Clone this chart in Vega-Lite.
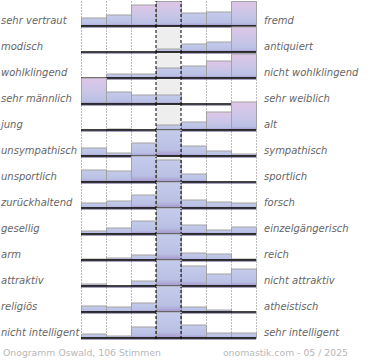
{
  "$schema": "https://vega.github.io/schema/vega-lite/v6.json",
  "autosize": {"type": "pad"},
  "padding": 0,
  "bounds": "flush",
  "background": "white",
  "config": {"view": {"stroke": null}, "font": "DejaVu Sans"},
  "datasets": {
    "bars": [
      {"r":1,"c":0,"v":8},{"r":1,"c":1,"v":11},{"r":1,"c":2,"v":21},{"r":1,"c":3,"v":24.5},{"r":1,"c":4,"v":13},{"r":1,"c":5,"v":14},{"r":1,"c":6,"v":24.5},
      {"r":2,"c":0,"v":0},{"r":2,"c":1,"v":0},{"r":2,"c":2,"v":0},{"r":2,"c":3,"v":3},{"r":2,"c":4,"v":8},{"r":2,"c":5,"v":10},{"r":2,"c":6,"v":25},
      {"r":3,"c":0,"v":0},{"r":3,"c":1,"v":4},{"r":3,"c":2,"v":4},{"r":3,"c":3,"v":10},{"r":3,"c":4,"v":12},{"r":3,"c":5,"v":17},{"r":3,"c":6,"v":24},
      {"r":4,"c":0,"v":26},{"r":4,"c":1,"v":12},{"r":4,"c":2,"v":9},{"r":4,"c":3,"v":9},{"r":4,"c":4,"v":0},{"r":4,"c":5,"v":0},{"r":4,"c":6,"v":0},
      {"r":5,"c":0,"v":0},{"r":5,"c":1,"v":1},{"r":5,"c":2,"v":0},{"r":5,"c":3,"v":5},{"r":5,"c":4,"v":8},{"r":5,"c":5,"v":18},{"r":5,"c":6,"v":28},
      {"r":6,"c":0,"v":8},{"r":6,"c":1,"v":3},{"r":6,"c":2,"v":13},{"r":6,"c":3,"v":26},{"r":6,"c":4,"v":10},{"r":6,"c":5,"v":5},{"r":6,"c":6,"v":2},
      {"r":7,"c":0,"v":12},{"r":7,"c":1,"v":11},{"r":7,"c":2,"v":26},{"r":7,"c":3,"v":22},{"r":7,"c":4,"v":8},{"r":7,"c":5,"v":0},{"r":7,"c":6,"v":0},
      {"r":8,"c":0,"v":5},{"r":8,"c":1,"v":7},{"r":8,"c":2,"v":13},{"r":8,"c":3,"v":26},{"r":8,"c":4,"v":8},{"r":8,"c":5,"v":6},{"r":8,"c":6,"v":5},
      {"r":9,"c":0,"v":3},{"r":9,"c":1,"v":6},{"r":9,"c":2,"v":13},{"r":9,"c":3,"v":26},{"r":9,"c":4,"v":9},{"r":9,"c":5,"v":4},{"r":9,"c":6,"v":7},
      {"r":10,"c":0,"v":1},{"r":10,"c":1,"v":2},{"r":10,"c":2,"v":5},{"r":10,"c":3,"v":26},{"r":10,"c":4,"v":7},{"r":10,"c":5,"v":6},{"r":10,"c":6,"v":1},
      {"r":11,"c":0,"v":2},{"r":11,"c":1,"v":0},{"r":11,"c":2,"v":5},{"r":11,"c":3,"v":26},{"r":11,"c":4,"v":20},{"r":11,"c":5,"v":12},{"r":11,"c":6,"v":17},
      {"r":12,"c":0,"v":6},{"r":12,"c":1,"v":5},{"r":12,"c":2,"v":9},{"r":12,"c":3,"v":26},{"r":12,"c":4,"v":5},{"r":12,"c":5,"v":2},{"r":12,"c":6,"v":0},
      {"r":13,"c":0,"v":4},{"r":13,"c":1,"v":2},{"r":13,"c":2,"v":11},{"r":13,"c":3,"v":26},{"r":13,"c":4,"v":13},{"r":13,"c":5,"v":5},{"r":13,"c":6,"v":5}
    ],
    "labels": [
      {"r":1,"left":"sehr vertraut","right":"fremd"},
      {"r":2,"left":"modisch","right":"antiquiert"},
      {"r":3,"left":"wohlklingend","right":"nicht wohlklingend"},
      {"r":4,"left":"sehr männlich","right":"sehr weiblich"},
      {"r":5,"left":"\u00a0jung","right":"alt"},
      {"r":6,"left":"unsympathisch","right":"sympathisch"},
      {"r":7,"left":"unsportlich","right":"sportlich"},
      {"r":8,"left":"zurückhaltend","right":"forsch"},
      {"r":9,"left":"gesellig","right":"einzelgängerisch"},
      {"r":10,"left":"arm","right":"reich"},
      {"r":11,"left":"attraktiv","right":"nicht attraktiv"},
      {"r":12,"left":"religiös","right":"atheistisch"},
      {"r":13,"left":"nicht intelligent","right":"sehr intelligent"}
    ]
  },
  "data": {"name": "bars"},
  "transform": [
    {"lookup": "r", "from": {"data": {"name": "labels"}, "key": "r", "fields": ["left", "right"]}}
  ],
  "facet": {"row": {"field": "r", "type": "ordinal", "header": null, "title": null, "sort": "ascending"}},
  "spacing": 0,
  "spec": {
    "width": 175,
    "height": 26,
    "layer": [
      {
        "transform": [{"filter": "datum.c == 0"}],
        "mark": {"type": "rect", "color": "#eeeeee"},
        "encoding": {
          "x": {"datum": 3, "type": "quantitative", "scale": {"domain": [0, 7], "nice": false, "zero": false},
                "axis": {"values": [0, 1, 2, 5, 6, 7], "grid": true, "gridDash": [1, 2], "gridColor": "#777", "gridWidth": 1, "labels": false, "ticks": false, "domain": false, "title": null}},
          "x2": {"datum": 4},
          "y": {"datum": -1, "type": "quantitative", "scale": {"domain": [-1, 25], "nice": false, "zero": false}, "axis": null},
          "y2": {"datum": 25}
        }
      },
      {
        "transform": [{"filter": "datum.v > 0 && datum.r <= 5 && datum.v >= 17"}],
        "mark": {"type": "bar", "binSpacing": 0, "stroke": "#a2a2a2", "strokeWidth": 1,
          "color": {"gradient": "linear", "x1": 0, "y1": 0, "x2": 0, "y2": 1,
            "stops": [{"offset": 0, "color": "#dec6e6"}, {"offset": 0.5, "color": "#cbc6e8"}, {"offset": 0.88, "color": "#b9c0e4"}, {"offset": 1, "color": "#a595cb"}]}},
        "encoding": {
          "x": {"field": "c", "type": "quantitative", "bin": {"binned": true, "step": 1}},
          "y": {"field": "v", "type": "quantitative"},
          "y2": {"datum": 0}
        }
      },
      {
        "transform": [{"filter": "datum.v > 0 && !(datum.r <= 5 && datum.v >= 17)"}],
        "mark": {"type": "bar", "binSpacing": 0, "stroke": "#a2a2a2", "strokeWidth": 1,
          "color": {"gradient": "linear", "x1": 0, "y1": 0, "x2": 0, "y2": 1,
            "stops": [{"offset": 0, "color": "#c4cbea"}, {"offset": 0.75, "color": "#b9c0e4"}, {"offset": 1, "color": "#a595cb"}]}},
        "encoding": {
          "x": {"field": "c", "type": "quantitative", "bin": {"binned": true, "step": 1}},
          "y": {"field": "v", "type": "quantitative"},
          "y2": {"datum": 0}
        }
      },
      {
        "transform": [{"filter": "datum.c == 0"}],
        "mark": {"type": "rule", "color": "black", "strokeWidth": 1, "strokeDash": [3, 2]},
        "encoding": {"x": {"datum": 3, "type": "quantitative"}, "y": {"datum": -1, "type": "quantitative"}, "y2": {"datum": 25}}
      },
      {
        "transform": [{"filter": "datum.c == 0"}],
        "mark": {"type": "rule", "color": "black", "strokeWidth": 1, "strokeDash": [3, 2]},
        "encoding": {"x": {"datum": 4, "type": "quantitative"}, "y": {"datum": -1, "type": "quantitative"}, "y2": {"datum": 25}}
      },
      {
        "transform": [{"filter": "datum.c == 0"}],
        "mark": {"type": "rule", "color": "#a9a4c2", "strokeWidth": 1, "yOffset": 1.5},
        "encoding": {"x": {"datum": 0, "type": "quantitative"}, "x2": {"datum": 7}, "y": {"datum": 0, "type": "quantitative"}}
      },
      {
        "transform": [{"filter": "datum.c == 0"}],
        "mark": {"type": "rule", "color": "black", "strokeWidth": 1.5},
        "encoding": {"x": {"datum": 0, "type": "quantitative"}, "x2": {"datum": 7}, "y": {"datum": 0, "type": "quantitative"}}
      },
      {
        "transform": [{"filter": "datum.c == 0"}],
        "mark": {"type": "text", "align": "left", "baseline": "middle", "fontSize": 10, "fontStyle": "italic", "font": "DejaVu Sans", "color": "#666666"},
        "encoding": {"x": {"datum": -3.2, "type": "quantitative"}, "y": {"datum": 5.5, "type": "quantitative"}, "text": {"field": "left"}}
      },
      {
        "transform": [{"filter": "datum.c == 0"}],
        "mark": {"type": "text", "align": "left", "baseline": "middle", "fontSize": 10, "fontStyle": "italic", "font": "DejaVu Sans", "color": "#666666"},
        "encoding": {"x": {"datum": 7.32, "type": "quantitative"}, "y": {"datum": 5.5, "type": "quantitative"}, "text": {"field": "right"}}
      },
      {
        "transform": [{"filter": "datum.c == 0 && datum.r == 13"}],
        "mark": {"type": "text", "text": "Onogramm Oswald, 106 Stimmen", "align": "left", "baseline": "middle", "fontSize": 9.3, "font": "DejaVu Sans", "color": "#b8b8b8"},
        "encoding": {"x": {"datum": -3.12, "type": "quantitative"}, "y": {"datum": -15, "type": "quantitative"}}
      },
      {
        "transform": [{"filter": "datum.c == 0 && datum.r == 13"}],
        "mark": {"type": "text", "text": "onomastik.com - 05 / 2025", "align": "right", "baseline": "middle", "fontSize": 9.3, "font": "DejaVu Sans", "color": "#b8b8b8"},
        "encoding": {"x": {"datum": 10.68, "type": "quantitative"}, "y": {"datum": -15, "type": "quantitative"}}
      }
    ]
  }
}
